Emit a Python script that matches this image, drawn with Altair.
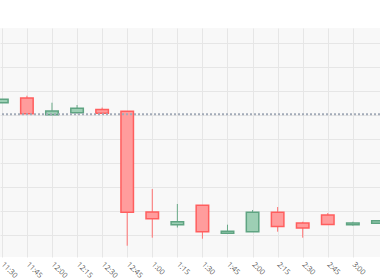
import altair as alt
import pandas as pd

times = ["11:30", "11:45", "12:00", "12:15", "12:30", "12:45", "1:00", "1:15",
         "1:30", "1:45", "2:00", "2:15", "2:30", "2:45", "3:00", "3:15"]
opens = [102.756, 102.854, 102.506, 102.548, 102.615, 102.577, 100.479, 100.215,
         100.619, 100.035, 100.069, 100.473, 100.250, 100.417, 100.215, 100.244]
highs = [102.827, 102.902, 102.756, 102.708, 102.656, 102.577, 100.958, 100.646,
         100.619, 100.215, 100.521, 100.583, 100.277, 100.458, 100.277, 100.298]
lows = [102.756, 102.521, 102.506, 102.548, 102.535, 99.777, 99.944, 100.156,
        99.923, 100.035, 100.069, 100.069, 99.944, 100.219, 100.194, 100.244]
closes = [102.827, 102.527, 102.583, 102.640, 102.535, 100.473, 100.340, 100.277,
          100.069, 100.077, 100.473, 100.177, 100.146, 100.219, 100.250, 100.298]
prev_close = 102.515
grid_values = [100, 100.5, 101, 101.5, 102, 102.5, 103, 103.5, 104]
label_count = 15  # labels 11:30 .. 3:00 are within the visible window

df = pd.DataFrame({
    "idx": list(range(len(times))),
    "time": times,
    "open": opens,
    "high": highs,
    "low": lows,
    "close": closes,
})
df["dir"] = ["up" if c >= o else "down" for o, c in zip(opens, closes)]

label_expr = "[" + ",".join(f"'{t}'" for t in times) + "][datum.value]"

xscale = alt.Scale(domain=[0.1262, 14.883], nice=False, zero=False)
yscale = alt.Scale(domain=[99.5417, 104.3125], nice=False, zero=False)

x_axis = alt.Axis(
    values=list(range(label_count)), labelExpr=label_expr, title=None,
    labelAngle=45, labelAlign="left", labelBaseline="middle",
    labelFont="Open Sans", labelFontSize=7.5, labelColor="#555555",
    labelOverlap=False, labelFlush=False, labelBound=False,
    ticks=False, domain=False, labelPadding=6,
    grid=True, gridColor="#e6e6e6", gridWidth=1)
y_axis = alt.Axis(
    values=grid_values, labels=False, ticks=False, domain=False, title=None,
    grid=True, gridColor="#e6e6e6", gridWidth=1)

base = alt.Chart(df)

wicks = base.mark_rule(strokeWidth=1, clip=True).encode(
    x=alt.X("idx:Q", scale=xscale, axis=x_axis),
    y=alt.Y("low:Q", scale=yscale, axis=y_axis),
    y2="high:Q",
    color=alt.Color("dir:N", scale=alt.Scale(domain=["up", "down"], range=["#6aaa88", "#ff7272"]), legend=None),
)

bodies = base.mark_bar(size=12.5, strokeWidth=1.5, clip=True).encode(
    x=alt.X("idx:Q", scale=xscale, axis=x_axis),
    y=alt.Y("open:Q", scale=yscale, axis=y_axis),
    y2="close:Q",
    fill=alt.Fill("dir:N", scale=alt.Scale(domain=["up", "down"], range=["#9dcfb4", "#ff9c9c"]), legend=None),
    stroke=alt.Stroke("dir:N", scale=alt.Scale(domain=["up", "down"], range=["#5fa482", "#ff5e5e"]), legend=None),
)

ref = alt.Chart(pd.DataFrame({"v": [prev_close]})).mark_rule(
    strokeDash=[2, 2], strokeWidth=2, color="#a3abb8", clip=True
).encode(y=alt.Y("v:Q", scale=yscale, axis=y_axis))

chart = alt.layer(wicks, bodies, ref).properties(
    width=380, height=229,
    autosize=alt.AutoSizeParams(type="none"),
    padding={"left": 0, "right": 0, "top": 28, "bottom": 23},
    background="white",
).configure_view(fill="#f8f8f8", stroke=None)

chart.save("out.html", embed_options={"renderer": "svg", "actions": False})
